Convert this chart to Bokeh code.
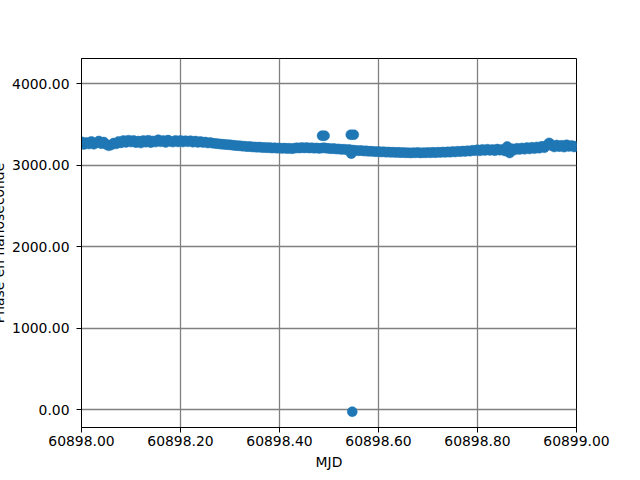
from bokeh.plotting import figure
from bokeh.models import Range1d, FixedTicker, PrintfTickFormatter, ColumnDataSource
from bokeh.embed import file_html
from bokeh.resources import INLINE

MJD_BASE = 60898.0

# time offsets (days from MJD 60898) of the main series
t_offset = [
    0.000, 0.005, 0.010, 0.015, 0.020, 0.025, 0.030, 0.035, 0.040, 0.045,
    0.050, 0.055, 0.060, 0.065, 0.070, 0.075, 0.080, 0.085, 0.090, 0.095,
    0.100, 0.105, 0.110, 0.115, 0.120, 0.125, 0.130, 0.135, 0.140, 0.145,
    0.150, 0.155, 0.160, 0.165, 0.170, 0.175, 0.180, 0.185, 0.190, 0.195,
    0.200, 0.205, 0.210, 0.215, 0.220, 0.225, 0.230, 0.235, 0.240, 0.245,
    0.250, 0.255, 0.260, 0.265, 0.270, 0.275, 0.280, 0.285, 0.290, 0.295,
    0.300, 0.305, 0.310, 0.315, 0.320, 0.325, 0.330, 0.335, 0.340, 0.345,
    0.350, 0.355, 0.360, 0.365, 0.370, 0.375, 0.380, 0.385, 0.390, 0.395,
    0.400, 0.405, 0.410, 0.415, 0.420, 0.425, 0.430, 0.435, 0.440, 0.445,
    0.450, 0.455, 0.460, 0.465, 0.470, 0.475, 0.480, 0.485, 0.490, 0.495,
    0.500, 0.505, 0.510, 0.515, 0.520, 0.525, 0.530, 0.535, 0.540, 0.545,
    0.550, 0.555, 0.560, 0.565, 0.570, 0.575, 0.580, 0.585, 0.590, 0.595,
    0.600, 0.605, 0.610, 0.615, 0.620, 0.625, 0.630, 0.635, 0.640, 0.645,
    0.650, 0.655, 0.660, 0.665, 0.670, 0.675, 0.680, 0.685, 0.690, 0.695,
    0.700, 0.705, 0.710, 0.715, 0.720, 0.725, 0.730, 0.735, 0.740, 0.745,
    0.750, 0.755, 0.760, 0.765, 0.770, 0.775, 0.780, 0.785, 0.790, 0.795,
    0.800, 0.805, 0.810, 0.815, 0.820, 0.825, 0.830, 0.835, 0.840, 0.845,
    0.850, 0.855, 0.860, 0.865, 0.870, 0.875, 0.880, 0.885, 0.890, 0.895,
    0.900, 0.905, 0.910, 0.915, 0.920, 0.925, 0.930, 0.935, 0.940, 0.945,
    0.950, 0.955, 0.960, 0.965, 0.970, 0.975, 0.980, 0.985, 0.990, 0.995,
    1.000,
]

# phase in nanoseconds of the main series
phase_ns = [
    3285, 3252, 3278, 3258, 3290, 3255, 3272, 3295, 3262, 3282,
    3252, 3236, 3246, 3270, 3260, 3290, 3272, 3300, 3278, 3305,
    3282, 3302, 3275, 3294, 3270, 3300, 3280, 3305, 3275, 3296,
    3282, 3310, 3285, 3300, 3278, 3306, 3288, 3282, 3302, 3284,
    3302, 3283, 3298, 3285, 3298, 3280, 3294, 3278, 3290, 3276,
    3282, 3270, 3276, 3268, 3265, 3262, 3258, 3255, 3252, 3250,
    3248, 3244, 3240, 3238, 3236, 3232, 3230, 3226, 3228, 3222,
    3222, 3218, 3220, 3214, 3216, 3212, 3214, 3208, 3212, 3206,
    3210, 3204, 3208, 3202, 3206, 3200, 3206, 3212, 3208, 3214,
    3210, 3214, 3208, 3212, 3206, 3210, 3204, 3208, 3212, 3206,
    3204, 3200, 3202, 3196, 3198, 3192, 3194, 3188, 3190, 3186,
    3182, 3180, 3176, 3178, 3172, 3174, 3168, 3170, 3166, 3164,
    3166, 3160, 3164, 3158, 3160, 3156, 3158, 3154, 3156, 3152,
    3154, 3150, 3152, 3148, 3152, 3150, 3154, 3148, 3152, 3150,
    3154, 3150, 3156, 3152, 3158, 3154, 3160, 3156, 3162, 3158,
    3166, 3160, 3170, 3164, 3172, 3166, 3176, 3170, 3182, 3176,
    3188, 3174, 3192, 3178, 3194, 3180, 3190, 3176, 3196, 3182,
    3192, 3172, 3228, 3148, 3200, 3184, 3206, 3190, 3210, 3194,
    3214, 3198, 3218, 3202, 3222, 3206, 3230, 3212, 3242, 3272,
    3238, 3222, 3246, 3226, 3242, 3220, 3248, 3228, 3240, 3222,
    3234,
]

# isolated points (outliers)
out_offset = [0.486, 0.491, 0.544, 0.550, 0.545, 0.547]
out_phase = [3360, 3360, 3372, 3372, 3140, -25]

x_ticks = [60898.0, 60898.2, 60898.4, 60898.6, 60898.8, 60899.0]
y_ticks = [0, 1000, 2000, 3000, 4000]

x_label = "MJD"
y_label = "Phase en nanoseconde"

FONT = "DejaVu Sans"
BLUE = "#1f77b4"
FS = "13.9px"
SHIFT = 12  # canvas is pulled left so the y label is partly cut, as in the reference

p = figure(
    width=640 + SHIFT, height=480,
    output_backend="svg", toolbar_location=None,
    x_range=Range1d(60898.0, 60899.0), y_range=Range1d(-219, 4307),
    min_border_left=80 + SHIFT, min_border_right=64, min_border_top=58, min_border_bottom=53,
    styles={"margin-left": f"-{SHIFT}px"},
)
p.background_fill_color = "white"
p.border_fill_color = "white"
p.outline_line_color = "black"
p.outline_line_width = 1

src = ColumnDataSource(dict(x=[MJD_BASE + t for t in t_offset], y=phase_ns))
src_out = ColumnDataSource(dict(x=[MJD_BASE + t for t in out_offset], y=out_phase))
p.scatter("x", "y", source=src, size=10, fill_color=BLUE, line_color=BLUE, line_width=0.5)
p.scatter("x", "y", source=src_out, size=10, fill_color=BLUE, line_color=BLUE, line_width=0.5)

p.xaxis.ticker = FixedTicker(ticks=x_ticks)
p.yaxis.ticker = FixedTicker(ticks=y_ticks)
p.xaxis.formatter = PrintfTickFormatter(format="%.2f")
p.yaxis.formatter = PrintfTickFormatter(format="%.2f")

for ax in (p.xaxis[0], p.yaxis[0]):
    ax.minor_tick_line_color = None
    ax.major_tick_in = 0
    ax.major_tick_out = 5
    ax.major_tick_line_color = "black"
    ax.axis_line_color = "black"
    ax.major_label_text_font = FONT
    ax.major_label_text_font_size = FS
    ax.major_label_text_color = "black"
    ax.axis_label_text_font = FONT
    ax.axis_label_text_font_size = FS
    ax.axis_label_text_font_style = "normal"
    ax.axis_label_text_color = "black"

p.xaxis.major_label_standoff = 3
p.yaxis.major_label_standoff = 7
p.xaxis.axis_label = x_label
p.xaxis.axis_label_standoff = 5
p.yaxis.axis_label = y_label
p.yaxis.axis_label_standoff = 2

p.grid.grid_line_color = "#808080"
p.grid.grid_line_width = 1.3

open("out.html", "w").write(file_html(p, INLINE))
